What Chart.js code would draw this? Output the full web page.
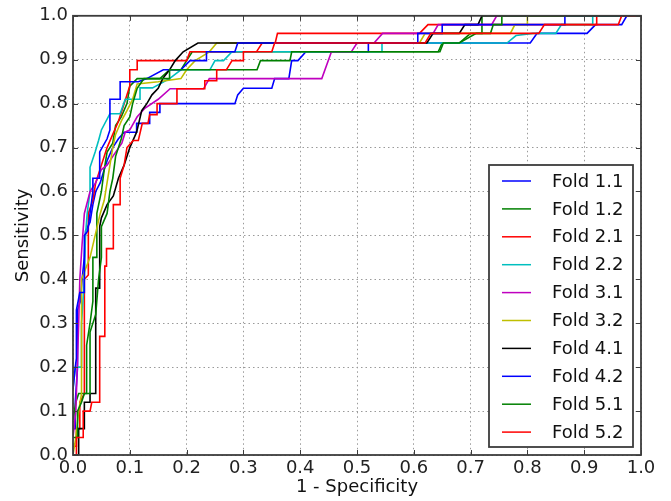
<!DOCTYPE html>
<html>
<head>
<meta charset="utf-8">
<script src="https://cdn.jsdelivr.net/npm/chart.js@4.4.0/dist/chart.umd.min.js"></script>
<style>
  html, body { margin: 0; padding: 0; background: #fff; }
</style>
</head>
<body>
<canvas id="roc" width="671" height="501"></canvas>
<script>
// tick positions / labels, shared by both axes
const tickValues = [0.0, 0.1, 0.2, 0.3, 0.4, 0.5, 0.6, 0.7, 0.8, 0.9, 1.0];
const tickLabels = ['0.0', '0.1', '0.2', '0.3', '0.4', '0.5', '0.6', '0.7', '0.8', '0.9', '1.0'];

const foldNames = ['Fold 1.1', 'Fold 1.2', 'Fold 2.1', 'Fold 2.2', 'Fold 3.1',
                   'Fold 3.2', 'Fold 4.1', 'Fold 4.2', 'Fold 5.1', 'Fold 5.2'];
const foldColors = ['#0000ff', '#008000', '#ff0000', '#00bfbf', '#bf00bf',
                    '#bfbf00', '#000000', '#0000ff', '#008000', '#ff0000'];

// ROC points [1 - specificity, sensitivity]
const fold11 = [[0,0.06],[0.004,0.06],[0.004,0.12],[0.008,0.2],[0.008,0.33],[0.013,0.35],[0.016,0.4],[0.02,0.45],[0.022,0.51],[0.03,0.53],[0.035,0.57],[0.04,0.6],[0.048,0.62],[0.055,0.65],[0.06,0.67],[0.07,0.7],[0.08,0.72],[0.09,0.735],[0.112,0.735],[0.112,0.755],[0.135,0.755],[0.135,0.78],[0.153,0.78],[0.153,0.8],[0.285,0.8],[0.29,0.82],[0.3,0.835],[0.35,0.835],[0.355,0.857],[0.38,0.857],[0.385,0.898],[0.396,0.898],[0.41,0.918],[0.52,0.918],[0.52,0.938],[0.805,0.938],[0.817,0.96],[0.905,0.96],[0.92,0.98],[0.966,0.98],[0.975,1],[1,1]];
const fold12 = [[0,0.08],[0.005,0.12],[0.01,0.14],[0.024,0.14],[0.024,0.25],[0.03,0.3],[0.035,0.35],[0.035,0.45],[0.042,0.45],[0.042,0.55],[0.05,0.6],[0.055,0.65],[0.06,0.69],[0.07,0.71],[0.075,0.75],[0.085,0.77],[0.095,0.8],[0.1,0.84],[0.113,0.857],[0.153,0.857],[0.17,0.877],[0.19,0.877],[0.2,0.898],[0.21,0.918],[0.643,0.918],[0.65,0.938],[0.68,0.938],[0.7,0.96],[0.72,0.96],[0.72,1],[1,1]];
const fold21 = [[0,0.02],[0.006,0.02],[0.006,0.06],[0.012,0.06],[0.012,0.12],[0.02,0.14],[0.02,0.4],[0.027,0.41],[0.027,0.55],[0.035,0.58],[0.04,0.62],[0.05,0.66],[0.06,0.7],[0.07,0.73],[0.08,0.76],[0.09,0.8],[0.1,0.84],[0.1,0.877],[0.113,0.877],[0.113,0.898],[0.2,0.898],[0.206,0.918],[0.323,0.918],[0.333,0.938],[0.356,0.938],[0.36,0.96],[0.61,0.96],[0.625,0.98],[0.922,0.98],[0.922,1],[1,1]];
const fold22 = [[0,0.15],[0.004,0.2],[0.015,0.2],[0.015,0.3],[0.02,0.4],[0.022,0.5],[0.025,0.55],[0.03,0.6],[0.03,0.655],[0.039,0.69],[0.045,0.716],[0.05,0.74],[0.065,0.777],[0.083,0.777],[0.092,0.81],[0.118,0.81],[0.118,0.836],[0.14,0.836],[0.17,0.857],[0.19,0.877],[0.241,0.877],[0.25,0.898],[0.265,0.898],[0.28,0.918],[0.544,0.918],[0.544,0.938],[0.764,0.938],[0.78,0.955],[0.81,0.96],[0.85,0.96],[0.86,0.98],[0.915,0.98],[0.915,1],[1,1]];
const fold31 = [[0,0.04],[0.005,0.1],[0.008,0.22],[0.01,0.3],[0.012,0.4],[0.016,0.48],[0.02,0.55],[0.03,0.6],[0.04,0.62],[0.05,0.65],[0.06,0.66],[0.07,0.68],[0.086,0.71],[0.092,0.735],[0.1,0.74],[0.113,0.77],[0.127,0.79],[0.15,0.81],[0.171,0.834],[0.23,0.834],[0.24,0.857],[0.438,0.857],[0.455,0.918],[0.49,0.918],[0.5,0.938],[0.53,0.938],[0.545,0.96],[0.634,0.96],[0.643,0.98],[0.737,0.98],[0.746,1],[1,1]];
const fold32 = [[0,0],[0.005,0.04],[0.01,0.1],[0.015,0.14],[0.015,0.4],[0.03,0.45],[0.048,0.55],[0.055,0.58],[0.06,0.62],[0.065,0.66],[0.07,0.7],[0.075,0.73],[0.085,0.76],[0.095,0.784],[0.105,0.81],[0.113,0.845],[0.15,0.85],[0.19,0.857],[0.2,0.877],[0.215,0.898],[0.24,0.918],[0.253,0.938],[0.61,0.938],[0.62,0.96],[0.77,0.96],[0.778,0.98],[0.8,0.98],[0.8,1],[1,1]];
const fold41 = [[0,0],[0.01,0],[0.01,0.06],[0.02,0.06],[0.02,0.12],[0.03,0.12],[0.03,0.14],[0.04,0.14],[0.04,0.38],[0.047,0.38],[0.047,0.52],[0.05,0.54],[0.06,0.57],[0.071,0.59],[0.08,0.63],[0.09,0.66],[0.1,0.7],[0.112,0.735],[0.121,0.784],[0.13,0.8],[0.139,0.82],[0.15,0.835],[0.158,0.857],[0.17,0.877],[0.18,0.898],[0.194,0.918],[0.22,0.938],[0.623,0.938],[0.634,0.96],[0.68,0.96],[0.69,0.98],[0.713,0.98],[0.72,1],[1,1]];
const fold42 = [[0,0.15],[0.004,0.2],[0.006,0.22],[0.006,0.33],[0.012,0.37],[0.02,0.37],[0.02,0.5],[0.026,0.51],[0.03,0.55],[0.035,0.6],[0.035,0.63],[0.047,0.63],[0.047,0.69],[0.06,0.72],[0.065,0.74],[0.065,0.81],[0.083,0.81],[0.083,0.85],[0.115,0.85],[0.13,0.857],[0.159,0.877],[0.19,0.877],[0.206,0.898],[0.235,0.898],[0.235,0.918],[0.285,0.918],[0.29,0.938],[0.607,0.938],[0.607,0.96],[0.65,0.96],[0.65,0.98],[0.866,0.98],[0.866,1],[1,1]];
const fold51 = [[0,0.04],[0.008,0.04],[0.008,0.1],[0.015,0.12],[0.02,0.14],[0.03,0.14],[0.03,0.28],[0.04,0.32],[0.045,0.4],[0.05,0.45],[0.05,0.52],[0.06,0.55],[0.065,0.6],[0.07,0.63],[0.075,0.68],[0.085,0.72],[0.09,0.75],[0.1,0.77],[0.105,0.8],[0.113,0.835],[0.125,0.857],[0.17,0.857],[0.17,0.877],[0.324,0.877],[0.33,0.898],[0.382,0.898],[0.385,0.918],[0.646,0.918],[0.652,0.938],[0.68,0.938],[0.71,0.96],[0.735,0.96],[0.74,0.98],[0.755,0.98],[0.755,1],[1,1]];
const fold52 = [[0,0],[0.006,0],[0.006,0.04],[0.018,0.04],[0.018,0.1],[0.03,0.1],[0.033,0.12],[0.047,0.12],[0.047,0.27],[0.056,0.27],[0.056,0.43],[0.059,0.43],[0.059,0.47],[0.071,0.47],[0.071,0.57],[0.083,0.57],[0.083,0.63],[0.09,0.66],[0.095,0.7],[0.106,0.716],[0.115,0.716],[0.122,0.755],[0.132,0.755],[0.135,0.775],[0.148,0.775],[0.148,0.8],[0.183,0.8],[0.183,0.834],[0.232,0.834],[0.232,0.852],[0.253,0.852],[0.253,0.877],[0.27,0.877],[0.28,0.898],[0.3,0.898],[0.3,0.918],[0.35,0.918],[0.355,0.938],[0.62,0.938],[0.63,0.96],[0.82,0.96],[0.83,0.98],[0.96,0.98],[0.966,1],[1,1]];

const folds = [fold11, fold12, fold21, fold22, fold31, fold32, fold41, fold42, fold51, fold52];

const FONT = 'DejaVu Sans';
const FONT_SIZE = 18;

// box round the plot + matplotlib style inward ticks
const framePlugin = {
    id: 'frame',
    afterDatasetsDraw(chart) {
        const { ctx, chartArea: a, scales } = chart;
        ctx.save();
        ctx.strokeStyle = '#3c3c3c';
        ctx.lineWidth = 1;
        tickValues.forEach(function(v) {
            const x = Math.round(scales.x.getPixelForValue(v)) + 0.5;
            const y = Math.round(scales.y.getPixelForValue(v)) + 0.5;
            ctx.beginPath();
            ctx.moveTo(x, a.bottom); ctx.lineTo(x, a.bottom - 5);
            ctx.moveTo(x, a.top); ctx.lineTo(x, a.top + 5);
            ctx.moveTo(a.left, y); ctx.lineTo(a.left + 5, y);
            ctx.moveTo(a.right, y); ctx.lineTo(a.right - 5, y);
            ctx.stroke();
        });
        ctx.lineWidth = 1.8;
        ctx.strokeRect(a.left, a.top, a.right - a.left, a.bottom - a.top);
        ctx.restore();
    }
};

// legend box in the lower right of the plot
const legendPlugin = {
    id: 'boxLegend',
    afterDraw(chart) {
        const ctx = chart.ctx;
        const left = 489, top = 165, right = 633, bottom = 447;
        ctx.save();
        ctx.fillStyle = '#fff';
        ctx.fillRect(left, top, right - left, bottom - top);
        ctx.strokeStyle = '#3c3c3c';
        ctx.lineWidth = 1.8;
        ctx.strokeRect(left, top, right - left, bottom - top);
        ctx.font = FONT_SIZE + 'px "' + FONT + '"';
        ctx.textBaseline = 'middle';
        ctx.textAlign = 'left';
        chart.data.datasets.forEach(function(ds, i) {
            const y = 181 + i * 27.9;
            ctx.strokeStyle = ds.borderColor;
            ctx.lineWidth = 1.5;
            ctx.beginPath();
            ctx.moveTo(502, y);
            ctx.lineTo(531, y);
            ctx.stroke();
            ctx.fillStyle = '#111';
            ctx.fillText(ds.label, 552, y + 1);
        });
        ctx.restore();
    }
};

const datasets = folds.map(function(pts, i) {
    return {
        label: foldNames[i],
        data: pts.map(p => ({ x: p[0], y: p[1] })),
        borderColor: foldColors[i],
        borderWidth: 1.6,
        pointRadius: 0,
        tension: 0,
        fill: false,
        order: -i
    };
});

const tickFont = { family: FONT, size: FONT_SIZE };

new Chart(document.getElementById('roc').getContext('2d'), {
    type: 'line',
    data: { datasets: datasets },
    options: {
        responsive: false,
        animation: false,
        devicePixelRatio: 1,
        layout: { padding: { left: 0, top: 15, right: 30, bottom: 0 } },
        plugins: {
            legend: { display: false },
            tooltip: { enabled: false }
        },
        scales: {
            x: {
                type: 'linear',
                min: 0,
                max: 1,
                afterBuildTicks: s => { s.ticks = tickValues.map(v => ({ value: v })); },
                afterFit: s => { s.height = 46; },
                ticks: {
                    callback: (v, i) => tickLabels[i],
                    font: tickFont,
                    color: '#222',
                    padding: 3,
                    maxRotation: 0,
                    autoSkip: false
                },
                grid: { color: '#9a9a9a', lineWidth: 1, drawTicks: false },
                border: { display: false, dash: [1.5, 3] },
                title: {
                    display: true,
                    text: '1 - Specificity',
                    font: tickFont,
                    color: '#111',
                    padding: { top: 0, bottom: 3 }
                }
            },
            y: {
                type: 'linear',
                min: 0,
                max: 1,
                afterBuildTicks: s => { s.ticks = tickValues.map(v => ({ value: v })); },
                afterFit: s => { s.width = 73; },
                ticks: {
                    callback: (v, i) => tickLabels[i],
                    font: tickFont,
                    color: '#222',
                    padding: 5,
                    autoSkip: false
                },
                grid: { color: '#9a9a9a', lineWidth: 1, drawTicks: false },
                border: { display: false, dash: [1.5, 3] },
                title: {
                    display: true,
                    text: 'Sensitivity',
                    font: tickFont,
                    color: '#111',
                    padding: { top: 13, bottom: 0 }
                }
            }
        }
    },
    plugins: [framePlugin, legendPlugin]
});
</script>
</body>
</html>
